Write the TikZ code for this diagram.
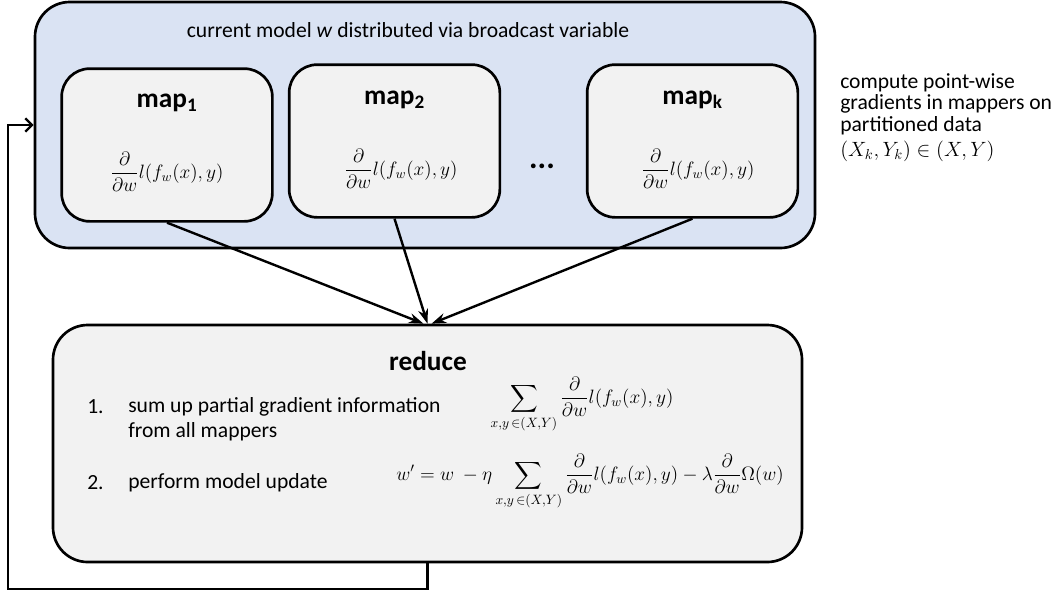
\RequirePackage{fix-cm}
\documentclass[tikz,border=0pt]{standalone}
\usepackage{amsmath}
\usepackage{fontspec}
\setmainfont{Carlito}
\usetikzlibrary{arrows.meta,calc}
\definecolor{bluefill}{HTML}{DAE3F3}
\definecolor{grayfill}{HTML}{F2F2F2}
\tikzset{
  outerbox/.style={draw=black, line width=2pt, fill=bluefill, rounded corners=26pt, inner sep=0pt,
    minimum width=585pt, minimum height=184.5pt},
  mapbox/.style={draw=black, line width=2pt, fill=grayfill, rounded corners=21pt, inner sep=0pt,
    minimum width=158pt, minimum height=114.5pt},
  reducebox/.style={draw=black, line width=2pt, fill=grayfill, rounded corners=26pt, inner sep=0pt,
    minimum width=561.75pt, minimum height=177.75pt},
  titletext/.style={font=\fontsize{20.5}{24}\selectfont\bfseries, inner sep=0pt},
  bodytext/.style={font=\fontsize{16.2}{19}\selectfont, inner sep=0pt},
  mathtext/.style={font=\fontsize{14.5}{17}\selectfont, inner sep=0pt},
  conn/.style={line width=1.8pt, -{Stealth[length=11pt,width=7.5pt]}},
  feedback/.style={line width=1.8pt, -{Straight Barb[length=5pt,width=10pt,line width=1.8pt]}},
}
\begin{document}
\begin{tikzpicture}[x=0.75pt,y=-0.75pt]
\useasboundingbox (0,0) rectangle (1062,594);
% outer broadcast box
\node[outerbox] (outer) at (425,125) {};
\node[bodytext] (bcast) at (408,30) {current model \textit{w} distributed via broadcast variable};
% mappers
\node[mapbox] (map1) at (167,145) {};
\node[mapbox] (map2) at (394.5,141) {};
\node[mapbox] (mapk) at (692.5,141) {};
\node[titletext] (t1) at (167,103) {map\textsubscript{1}};
\node[titletext] (t2) at (394.5,100) {map\textsubscript{2}};
\node[titletext] (tk) at (692.5,100) {map\textsubscript{k}};
\node[mathtext] (f1) at (167,172) {$\dfrac{\partial}{\partial w}l(f_w(x),y)$};
\node[mathtext] (f2) at (401,169) {$\dfrac{\partial}{\partial w}l(f_w(x),y)$};
\node[mathtext] (fk) at (698,169) {$\dfrac{\partial}{\partial w}l(f_w(x),y)$};
\node[font=\fontsize{24}{26}\selectfont\bfseries, inner sep=0pt] (dots) at (542,166) {...};
% side note
\node[bodytext, anchor=west, align=left, font=\fontsize{16.2}{16.2}\selectfont] (note) at (840,104)
  {compute point-wise\\gradients in mappers on\\partitioned data};
\node[mathtext, anchor=west, font=\fontsize{15.5}{17}\selectfont] (note2) at (840,151)
  {$(X_k,Y_k)\in(X,Y)$};
% reduce box
\node[reducebox] (reduce) at (427.5,443.5) {};
\node[titletext] (tr) at (428,361) {reduce};
\node[bodytext, anchor=west] (n1) at (87,407) {1.};
\node[bodytext, anchor=west, align=left, font=\fontsize{16.2}{18.75}\selectfont] (s1) at (128,419.5)
  {sum up partial gradient information\\from all mappers};
\node[bodytext, anchor=west] (n2) at (87,483) {2.};
\node[bodytext, anchor=west] (s2) at (128,483) {perform model update};
\node[mathtext] (r1) at (582,405)
  {$\displaystyle\sum\limits_{x,y\,\in(X,Y)}\frac{\partial}{\partial w}l(f_w(x),y)$};
\node[mathtext] (r2) at (590,482)
  {$\displaystyle w' = w\ -\eta\sum\limits_{x,y\,\in(X,Y)}\frac{\partial}{\partial w}l(f_w(x),y)-\lambda\frac{\partial}{\partial w}\Omega(w)$};
% connectors
\draw[conn] (map1.south) -- ($(reduce.north)+(-4,0)$);
\draw[conn] (map2.south) -- ($(reduce.north)+(0,0)$);
\draw[conn] (mapk.south) -- ($(reduce.north)+(4,0)$);
\coordinate (fbcorner) at (8,589);
\draw[feedback] (reduce.south) |- (fbcorner) |- (outer.west);
\end{tikzpicture}
\end{document}
